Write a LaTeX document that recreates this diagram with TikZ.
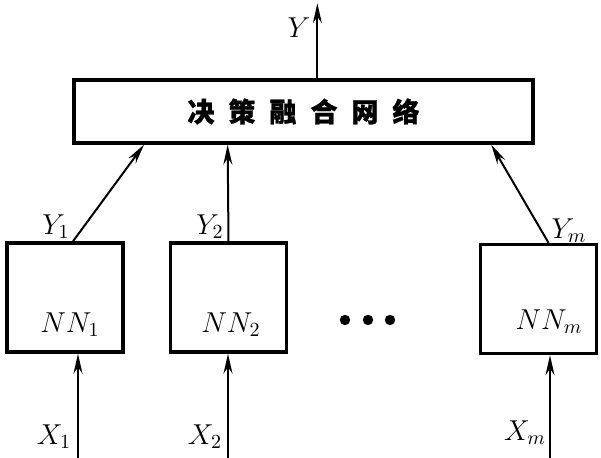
\documentclass[tikz,border=0pt]{standalone}
\usepackage{fontspec}
\newfontfamily\cjk[FakeBold=1]{Noto Sans CJK SC}
\usetikzlibrary{positioning,calc,arrows.meta}

\begin{document}
\begin{tikzpicture}
[x=0.5pt, y=-0.5pt, font=\fontsize{14}{16}\selectfont,
 nnbox/.style={draw, line width=1.7pt, minimum width=58pt, minimum height=54.5pt, inner sep=0pt},
 flow/.style={-{Stealth[length=10pt,width=4.5pt]}, line width=1pt}]
\useasboundingbox (0,0) rectangle (601,458);
% fusion network
\node[draw, line width=1.7pt, minimum width=229.5pt, minimum height=31.5pt, inner sep=0pt] (fuse) at (303.5,111.5)
 {\cjk\bfseries\fontsize{13.5}{15}\selectfont 决\hspace{7pt}策\hspace{7pt}融\hspace{7pt}合\hspace{7pt}网\hspace{7pt}络};
% subnetworks
\node[nnbox] (nn1) at (65,297.5) {};
\node[nnbox] (nn2) at (228.5,297.5) {};
\node[nnbox] (nnm) at (538.5,299) {};
\node (lnn1) at (70,325) {$NN_1$};
\node (lnn2) at (231,325) {$NN_2$};
\node (lnnm) at (549,322) {$NN_m$};
% dots
\foreach \dx in {345,368,390}
  \fill (\dx,320) circle (2.6pt);
% inputs
\coordinate (in1) at (78,458);
\coordinate (in2) at (228,458);
\coordinate (inm) at (550,458);
\draw[flow] (in1) -- (in1 |- nn1.south);
\draw[flow] (in2) -- (in2 |- nn2.south);
\draw[flow] (inm) -- (inm |- nnm.south);
\node (x1) at (54,437) {$X_1$};
\node (x2) at (205,437) {$X_2$};
\node (xm) at (525,433) {$X_m$};
% outputs
\draw[flow] ([xshift=4pt]nn1.north) -- ($(fuse.south west)!0.155!(fuse.south east)$);
\draw[flow] (nn2.north) -- ($(fuse.south west)!0.336!(fuse.south east)$);
\draw[flow] ([xshift=5pt]nnm.north) -- ($(fuse.south west)!0.906!(fuse.south east)$);
\node (y1) at (56,227) {$Y_1$};
\node (y2) at (210,227) {$Y_2$};
\node (ym) at (569,231) {$Y_m$};
% final output
\coordinate (out) at ($(fuse.north west)!0.53!(fuse.north east) + (0,-75)$);
\draw[flow] (fuse.north -| out) -- (out);
\node (y) at (299,28) {$Y$};
\end{tikzpicture}
\end{document}
